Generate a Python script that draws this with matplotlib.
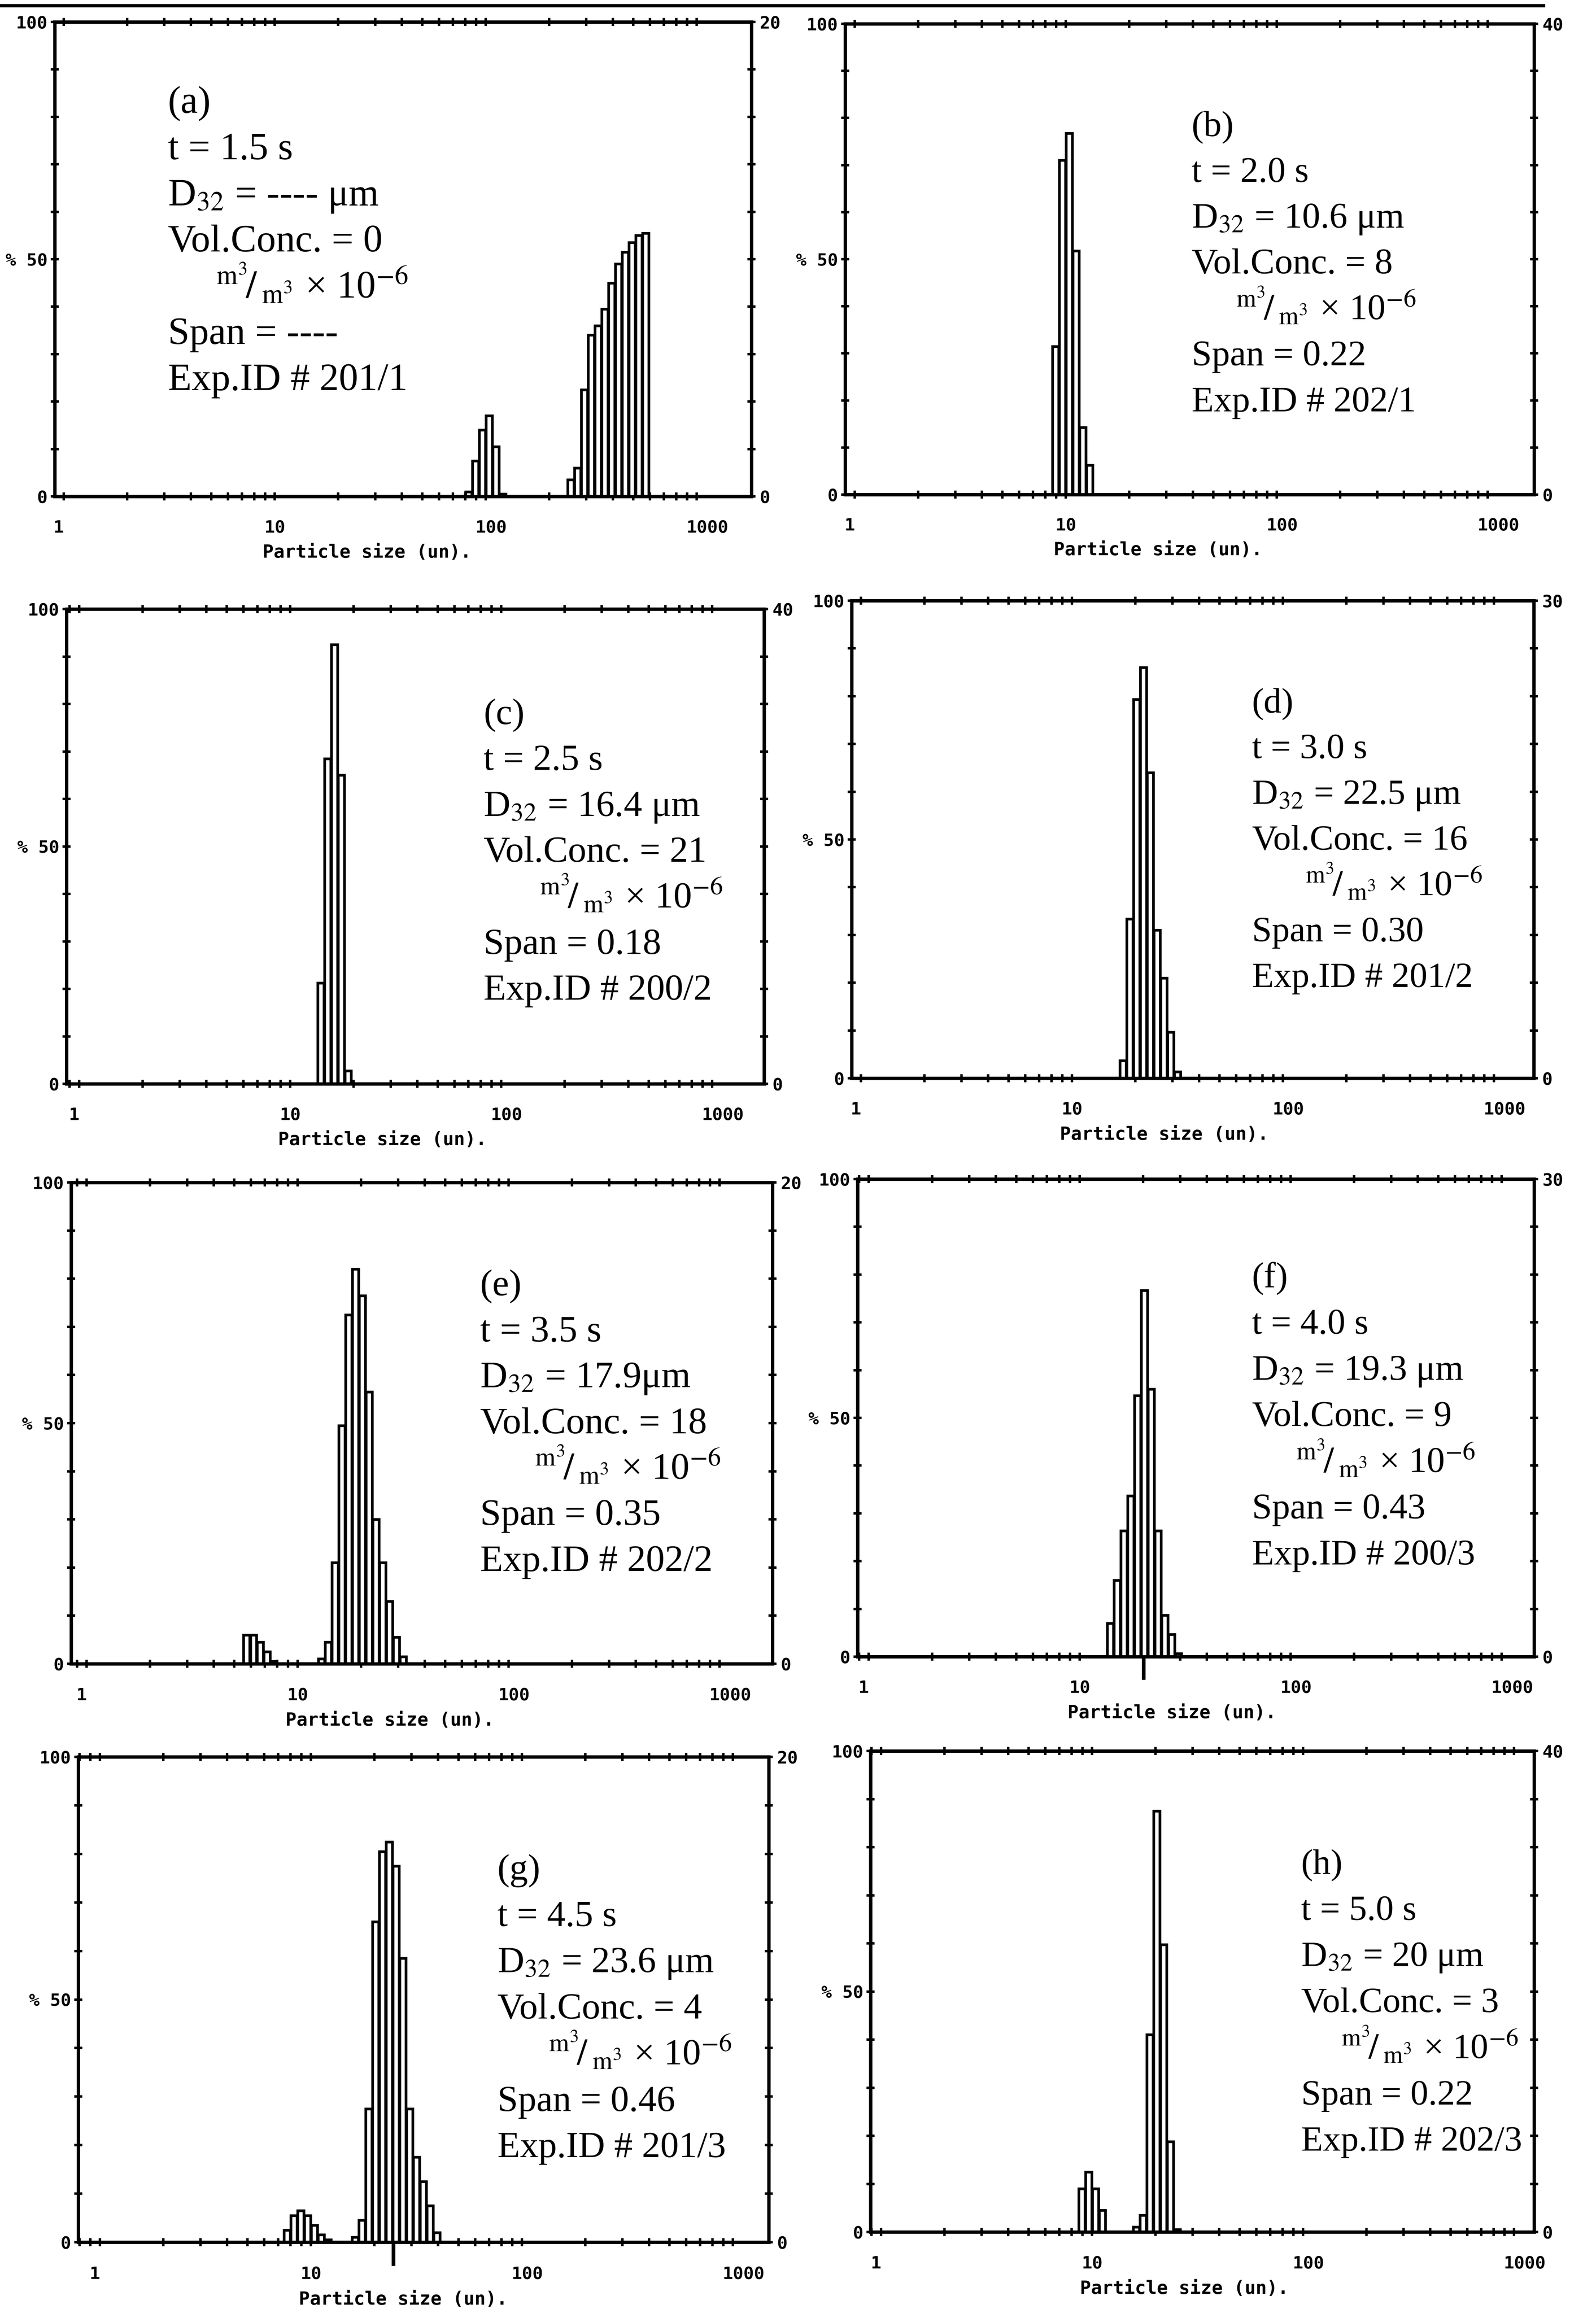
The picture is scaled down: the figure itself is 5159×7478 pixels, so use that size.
import matplotlib.pyplot as plt
import matplotlib.transforms as mtransforms
from matplotlib.lines import Line2D
from matplotlib.ticker import LogLocator, MultipleLocator, NullFormatter

plt.rcParams['font.family'] = ['Liberation Serif', 'DejaVu Serif']
plt.rcParams['mathtext.fontset'] = 'stix'

W, H = 5159, 7478
DPI = 477

# analyser size bands (um), band edges
bands_um = [5.12, 5.52, 5.95, 6.40, 6.90, 7.43, 8.00, 8.62, 9.28, 10.0,
            10.77, 11.60, 12.50, 13.46, 14.50, 15.62, 16.82, 18.12, 19.51, 21.02,
            22.64, 24.38, 26.26, 28.29, 30.47, 32.82, 35.35, 38.08, 41.01, 44.17,
            47.58, 51.25, 55.20, 59.46, 64.04, 68.98, 74.30, 80.03, 86.20, 92.84,
            100.0, 107.7, 116.0, 125.0, 134.6, 145.0, 156.2, 168.2, 181.2, 195.1,
            210.2, 226.4, 243.8, 262.6, 282.9, 304.7, 328.2, 353.5, 380.8, 410.1,
            441.7, 475.8, 512.5, 552.0, 594.6]

panel_ids = ['a', 'b', 'c', 'd', 'e', 'f', 'g', 'h']
times_s = ['1.5', '2.0', '2.5', '3.0', '3.5', '4.0', '4.5', '5.0']
d32_text = ['---- μm', '10.6 μm', '16.4 μm', '22.5 μm', '17.9μm', '19.3 μm',
            '23.6 μm', '20 μm']
vol_conc = ['0', '8', '21', '16', '18', '9', '4', '3']
span = ['----', '0.22', '0.18', '0.30', '0.35', '0.43', '0.46', '0.22']
exp_id = ['201/1', '202/1', '200/2', '201/2', '202/2', '200/3', '201/3', '202/3']
right_max = [20, 40, 40, 30, 20, 30, 20, 40]
x_ticks = [1, 10, 100, 1000]
x_tick_labels = ['1', '10', '100', '1000']

# volume % in each band, starting at band index first_band
first_band = [37, 7, 13, 16, 1, 13, 5, 7]
vol_a = [0.2, 1.5, 2.8, 3.4, 2.1, 0.1,
         0, 0, 0, 0, 0, 0, 0, 0, 0,
         0.7, 1.2, 4.5, 6.8, 7.2, 7.9, 9.0, 9.8, 10.3, 10.7, 11.0, 11.1]
vol_b = [12.6, 28.4, 30.7, 20.7, 5.7, 2.5]
vol_c = [8.5, 27.4, 37.0, 26.0, 1.1]
vol_d = [1.1, 10.0, 23.8, 25.8, 19.2, 9.3, 6.3, 2.9, 0.4]
vol_e = [1.2, 1.2, 0.9, 0.5, 0.1,
         0, 0, 0, 0, 0, 0,
         0.2, 0.9, 4.2, 9.9, 14.5, 16.4, 15.3, 11.3, 6.0, 4.2, 2.6, 1.1, 0.3]
vol_f = [2.1, 4.8, 7.9, 10.1, 16.4, 23.0, 16.8, 7.9, 2.6, 1.4, 0.2]
vol_g = [0.5, 1.1, 1.3, 1.1, 0.7, 0.3, 0.1,
         0, 0, 0,
         0.2, 0.9, 5.5, 13.2, 16.1, 16.5, 15.5, 11.7, 5.5, 3.5, 2.5, 1.5, 0.4]
vol_h = [3.6, 5.0, 3.6, 1.8,
         0, 0, 0, 0,
         0.4, 1.4, 16.4, 35.0, 23.9, 7.5, 0.2]
volumes = [vol_a, vol_b, vol_c, vol_d, vol_e, vol_f, vol_g, vol_h]

# pen marks drawn under the axis (um)
hand_marks = {'f': 20.1, 'g': 24.6}

# frame of each scanned panel in px: left, right, top, bottom, x of the "10" tick
frames = {
    'a': (177, 2429, 71, 1605, 888),
    'b': (2732, 4959, 77, 1599, 3445),
    'c': (215, 2470, 1969, 3504, 938),
    'd': (2753, 4958, 1942, 3486, 3465),
    'e': (230, 2497, 3823, 5379, 962),
    'f': (2772, 4959, 3812, 5356, 3490),
    'g': (253, 2485, 5680, 7249, 1005),
    'h': (2814, 4959, 5661, 7216, 3530),
}
DECADE = 682

# text block: x, baseline of first / last line (axes fraction), size, unit-line indent
text_pos = {
    'a': (0.1625, 0.808, 0.224, 18.9, 0.069),
    'b': (0.503, 0.762, 0.177, 17.7, 0.064),
    'c': (0.598, 0.758, 0.177, 18.0, 0.080),
    'd': (0.587, 0.766, 0.191, 17.4, 0.078),
    'e': (0.583, 0.765, 0.193, 18.3, 0.078),
    'f': (0.583, 0.773, 0.193, 17.6, 0.065),
    'g': (0.607, 0.747, 0.175, 18.0, 0.074),
    'h': (0.649, 0.745, 0.169, 17.4, 0.060),
}

unit_line = r'${}^{\mathrm{m}^3}\!/\,{}_{\mathrm{m}^3}$ × 10$^{-6}$'
mono = dict(fontfamily='DejaVu Sans Mono', fontweight='bold', fontsize=8.5)

fig = plt.figure(figsize=(W / DPI, H / DPI), dpi=DPI)
fig.add_artist(Line2D([0, 0.967], [1 - 18 / H, 1 - 18 / H], color='black', lw=1.6))
shift_left = mtransforms.ScaledTranslation(-33 / DPI, 0, fig.dpi_scale_trans)

for n, pid in enumerate(panel_ids):
    L, R, T, B, t10 = frames[pid]
    ax = fig.add_axes([L / W, 1 - B / H, (R - L) / W, (B - T) / H])
    ax.set_xscale('log')
    ax.set_xlim(10 ** (1 - (t10 - L) / DECADE), 10 ** (1 + (R - t10) / DECADE))
    ax.set_ylim(0, 100)
    for sp in ax.spines.values():
        sp.set_linewidth(1.6)

    ax.set_xticks(x_ticks)
    ax.set_xticklabels([])
    ax.xaxis.set_minor_locator(LogLocator(base=10, subs=range(2, 10)))
    ax.xaxis.set_minor_formatter(NullFormatter())
    ax.set_yticks([0, 50, 100])
    ax.set_yticklabels(['0', '% 50', '100'], **mono)
    ax.yaxis.set_minor_locator(MultipleLocator(10))
    ax.tick_params(axis='x', which='both', direction='inout', top=True,
                   length=4, width=1.2)
    ax.tick_params(axis='y', which='both', direction='inout', left=True,
                   right=False, length=4, width=1.2, pad=1.5)

    # size labels start just left of their tick, like the printout
    trans = mtransforms.blended_transform_factory(ax.transData, ax.transAxes)
    for v, s in zip(x_ticks, x_tick_labels):
        ax.text(v, -0.066, s, transform=trans + shift_left, ha='left',
                va='center', clip_on=False, **mono)

    # bars use the right-hand scale
    ax2 = ax.twinx()
    ax2.set_ylim(0, right_max[n])
    ax2.set_yticks([0, right_max[n]])
    ax2.set_yticklabels(['0', str(right_max[n])], **mono)
    ax2.yaxis.set_minor_locator(MultipleLocator(right_max[n] / 10))
    ax2.tick_params(axis='y', which='both', direction='inout', right=True,
                    length=4, width=1.2, pad=2)
    for sp in ax2.spines.values():
        sp.set_linewidth(1.6)

    vals = volumes[n]
    edges = bands_um[first_band[n]:first_band[n] + len(vals) + 1]
    lefts, widths, heights = [], [], []
    for i, v in enumerate(vals):
        if v <= 0:
            continue
        lo, hi = edges[i], edges[i + 1]
        g = (hi / lo) ** 0.06
        lefts.append(lo * g)
        widths.append(hi / g - lo * g)
        heights.append(v)
    ax2.bar(lefts, heights, width=widths, align='edge', facecolor='white',
            edgecolor='black', linewidth=1.3)

    # axis title below the ticks
    ax.text(8.77, -0.118, 'Particle size (un).', transform=trans, ha='left',
            va='center', fontfamily='DejaVu Sans Mono', fontweight='bold',
            fontsize=8.9, clip_on=False)
    if pid in hand_marks:
        m = hand_marks[pid]
        ax.plot([m, m], [0.01, -0.045], transform=trans, color='black',
                lw=1.8, clip_on=False)

    # measurement summary
    tx, y0, y6, fs, indent = text_pos[pid]
    lines = ['(%s)' % pid,
             't = %s s' % times_s[n],
             'D$_{32}$ = %s' % d32_text[n],
             'Vol.Conc. = %s' % vol_conc[n],
             unit_line,
             'Span = %s' % span[n],
             'Exp.ID # %s' % exp_id[n]]
    step = (y0 - y6) / 6
    for j, s in enumerate(lines):
        x = tx + (indent if j == 4 else 0)
        ax.text(x, y0 - j * step, s, transform=ax.transAxes, ha='left',
                va='baseline', fontsize=fs)

fig.savefig('out.png', dpi=DPI)
